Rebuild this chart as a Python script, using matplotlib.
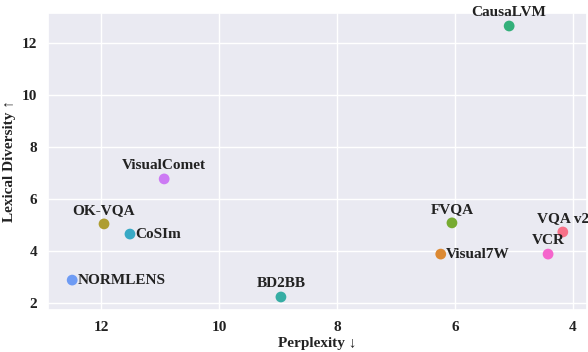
import matplotlib
matplotlib.use("Agg")
import matplotlib.pyplot as plt
import seaborn as sns

names = ["VQA v2", "Visual7W", "OK-VQA", "FVQA", "CausaLVM", "BD2BB",
         "CoSIm", "NORMLENS", "VisualComet", "VCR"]
perplexity = [4.17, 6.24, 11.95, 6.05, 5.08, 8.95, 11.51, 12.49, 10.93, 4.42]
diversity = [4.73, 3.88, 5.04, 5.08, 12.65, 2.23, 4.65, 2.88, 6.77, 3.88]
label_pos = ["above", "right", "above", "above", "above", "above",
             "right", "right", "above", "above"]

sns.set_theme(style="darkgrid")
plt.rcParams['font.family'] = ['Liberation Serif', 'DejaVu Serif']
plt.rcParams['font.weight'] = 'bold'

colors = sns.color_palette("husl", len(names))
fig, ax = plt.subplots(figsize=(5.88, 3.52), dpi=100)
fig.subplots_adjust(left=48/588, right=587/588, top=1-13/352, bottom=1-310/352)

fs = 11
for n, x, y, c, p in zip(names, perplexity, diversity, colors, label_pos):
    ax.scatter(x, y, s=60, color=c, edgecolor='none', zorder=3)
    if p == "above":
        ax.annotate(n, (x, y), xytext=(0, 5), textcoords='offset points',
                    ha='center', va='bottom', fontsize=fs, fontweight='bold',
                    color='#222222', annotation_clip=False)
    else:
        ax.annotate(n, (x, y), xytext=(4, 0), textcoords='offset points',
                    ha='left', va='center', fontsize=fs, fontweight='bold',
                    color='#222222', annotation_clip=False)

ax.set_xlim(12.9, 3.76)
ax.set_ylim(1.73, 13.15)
ax.set_xticks([12, 10, 8, 6, 4])
ax.set_yticks([2, 4, 6, 8, 10, 12])
ax.tick_params(labelsize=fs, pad=2)
for lbl in ax.get_xticklabels() + ax.get_yticklabels():
    lbl.set_fontweight('bold')
    lbl.set_color('#222222')
ax.set_xlabel("Perplexity ↓", fontsize=fs, fontweight='bold', color='#222222', labelpad=2)
ax.set_ylabel("Lexical Diversity ↑", fontsize=fs, fontweight='bold', color='#222222', labelpad=4)

fig.savefig("out.png", dpi=100)
